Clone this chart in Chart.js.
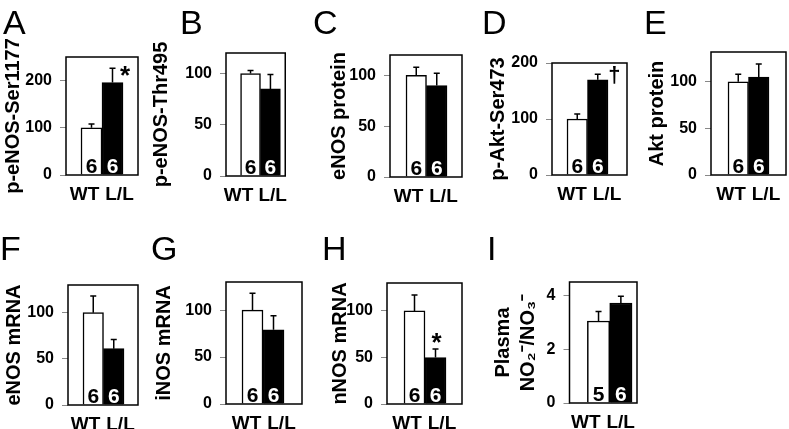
<!DOCTYPE html>
<html>
<head>
<meta charset="utf-8">
<script src="https://cdn.jsdelivr.net/npm/chart.js@4.4.0/dist/chart.umd.min.js"></script>
<style>
  html, body { margin: 0; padding: 0; background: #fff; overflow: hidden; }
  #fig { position: relative; width: 789px; height: 429px; overflow: hidden; }
  #fig canvas { position: absolute; }
  .letter { position: absolute; font: 34px "Liberation Sans", Arial, sans-serif; line-height: 1; color: #000; }
</style>
</head>
<body>
<div id="fig"></div>
<script>
// values
const groups = ['WT', 'L/L'];
const panelLetters = ['A', 'B', 'C', 'D', 'E', 'F', 'G', 'H', 'I'];
const yTitles = ['p-eNOS-Ser1177', 'p-eNOS-Thr495', 'eNOS protein', 'p-Akt-Ser473', 'Akt protein',
  'eNOS mRNA', 'iNOS mRNA', 'nNOS mRNA', ['Plasma', 'NO₂⁻/NO₃⁻']];
const wtValues = [100, 100, 100, 100, 100, 100, 100, 100, 3.05];
const llValues = [196, 85, 90, 170, 105, 61, 79, 50, 3.72];
const wtErrors = [8, 3, 8, 9, 8, 18, 18, 17, 0.35];
const llErrors = [30, 14, 12, 10, 14, 10, 15, 9, 0.25];
const wtCounts = [6, 6, 6, 6, 6, 6, 6, 6, 5];
const llCounts = [6, 6, 6, 6, 6, 6, 6, 6, 6];
const sigMarks = ['*', '', '', '†', '', '', '', '*', ''];
const yMax = [250, 120, 120, 200, 132, 130, 130, 130, 4.5];
const yStep = [100, 50, 50, 100, 50, 50, 50, 50, 2];

// where each panel sits on the page: box = plot frame [left, top, right, bottom]
const layout = [
  {box: [66, 57, 138, 175], yw: 65, bar: 21, gapL: 15, gapR: 15, letter: [3, 5], sig: [12.5, 16, 26]},
  {box: [226, 53, 287, 176], yw: 77, bar: 20.5, gapL: 15, gapR: 5, letter: [180, 5]},
  {box: [390, 55, 462, 177], yw: 63, bar: 20.5, gapL: 16, gapR: 15, letter: [313, 5]},
  {box: [552, 63, 627, 175], yw: 66, bar: 20.5, gapL: 15, gapR: 19, letter: [482, 5], sig: [16.5, 8, 22]},
  {box: [711, 52, 786, 175], yw: 66, bar: 20.5, gapL: 17, gapR: 17, letter: [644, 5]},
  {box: [68, 285, 138, 405], yw: 66, bar: 20.5, gapL: 15, gapR: 14, letter: [0, 231]},
  {box: [226, 282, 302, 404], yw: 74, bar: 21, gapL: 16, gapR: 18, letter: [151, 231]},
  {box: [387, 283, 462, 404], yw: 59, bar: 21, gapL: 17, gapR: 16, letter: [322, 231], sig: [1, 2, 26]},
  {box: [569, 282, 637, 403], yw: 78.5, bar: 22.5, gapL: 18, gapR: 5, letter: [487, 231]},
];

const FONT = '"Liberation Sans", Arial, sans-serif';
Chart.defaults.font.family = FONT;
Chart.defaults.color = '#000';

const fig = document.getElementById('fig');

function panel(i) {
  const L = layout[i];
  const [bl, bt, br, bb] = L.box;
  const PT = 30, PR = 10, XH = 45;
  const w = L.yw + (br - bl) + PR;
  const h = PT + (bb - bt) + XH;
  const canvas = document.createElement('canvas');
  canvas.width = w;
  canvas.height = h;
  canvas.style.left = (bl - L.yw) + 'px';
  canvas.style.top = (bt - PT) + 'px';
  canvas.style.width = w + 'px';
  canvas.style.height = h + 'px';
  fig.appendChild(canvas);

  const values = [wtValues[i], llValues[i]];
  const errors = [wtErrors[i], llErrors[i]];
  const counts = [wtCounts[i], llCounts[i]];

  const extras = {
    id: 'extras',
    afterDatasetsDraw(chart) {
      const {ctx, chartArea: a, scales: {y}} = chart;
      const bars = chart.getDatasetMeta(0).data;
      ctx.save();
      ctx.strokeStyle = '#000';
      ctx.lineWidth = 1.5;
      ctx.strokeRect(a.left, a.top, a.right - a.left, a.bottom - a.top);

      bars.forEach((bar, j) => {
        const top = y.getPixelForValue(values[j] + errors[j]);
        ctx.beginPath();
        ctx.moveTo(bar.x, bar.y);
        ctx.lineTo(bar.x, top);
        ctx.moveTo(bar.x - 3, top);
        ctx.lineTo(bar.x + 3, top);
        ctx.stroke();

        ctx.fillStyle = j === 0 ? '#000' : '#fff';
        ctx.font = 'bold 21px ' + FONT;
        ctx.textAlign = 'center';
        ctx.textBaseline = 'alphabetic';
        ctx.fillText(String(counts[j]), bar.x, a.bottom - 2);
      });

      if (sigMarks[i] && L.sig) {
        const bar = bars[1];
        const top = y.getPixelForValue(values[1] + errors[1]);
        ctx.fillStyle = '#000';
        ctx.font = 'bold ' + L.sig[2] + 'px ' + FONT;
        ctx.textAlign = 'center';
        ctx.textBaseline = 'alphabetic';
        ctx.fillText(sigMarks[i], bar.x + L.sig[0], top + L.sig[1]);
      }
      ctx.restore();
    }
  };

  new Chart(canvas, {
    type: 'bar',
    data: {
      datasets: [{
        data: groups.map((g, j) => ({x: j, y: values[j]})),
        backgroundColor: ['#fff', '#000'],
        borderColor: '#000',
        borderWidth: 1.5,
        categoryPercentage: 1,
        barPercentage: 1,
      }]
    },
    options: {
      responsive: false,
      animation: false,
      devicePixelRatio: 1,
      layout: {padding: {top: PT, right: PR, left: 0, bottom: 0}},
      plugins: {legend: {display: false}, tooltip: {enabled: false}},
      scales: {
        x: {
          type: 'linear',
          offset: false,
          min: -(L.gapL + L.bar / 2) / L.bar,
          max: 1 + (L.gapR + L.bar / 2) / L.bar,
          afterBuildTicks: s => {
            const c = (s.min + s.max) / 2;
            const d = 17.5 / (br - bl) * (s.max - s.min);
            s.ticks = [{value: c - d}, {value: c + d}];
          },
          afterFit: s => { s.height = XH; },
          grid: {display: false, drawTicks: false},
          border: {display: false},
          ticks: {
            autoSkip: false,
            maxRotation: 0,
            padding: 8,
            color: '#000',
            font: {size: 19, weight: 'bold'},
            callback: (v, idx) => groups[idx],
          },
        },
        y: {
          min: 0,
          max: yMax[i],
          afterFit: s => { s.width = L.yw; },
          grid: {drawOnChartArea: false, drawTicks: true, tickLength: 6, color: '#888'},
          border: {display: false},
          ticks: {
            stepSize: yStep[i],
            includeBounds: false,
            padding: 8,
            color: '#000',
            font: {size: 16, weight: 'bold'},
          },
          title: {
            display: true,
            text: yTitles[i],
            padding: 0,
            color: '#000',
            font: {size: 20, weight: 'bold', lineHeight: 1.25},
          },
        },
      },
    },
    plugins: [extras],
  });

  const letter = document.createElement('div');
  letter.className = 'letter';
  letter.textContent = panelLetters[i];
  letter.style.left = L.letter[0] + 'px';
  letter.style.top = L.letter[1] + 'px';
  fig.appendChild(letter);
}

layout.forEach((L, i) => panel(i));
</script>
</body>
</html>
